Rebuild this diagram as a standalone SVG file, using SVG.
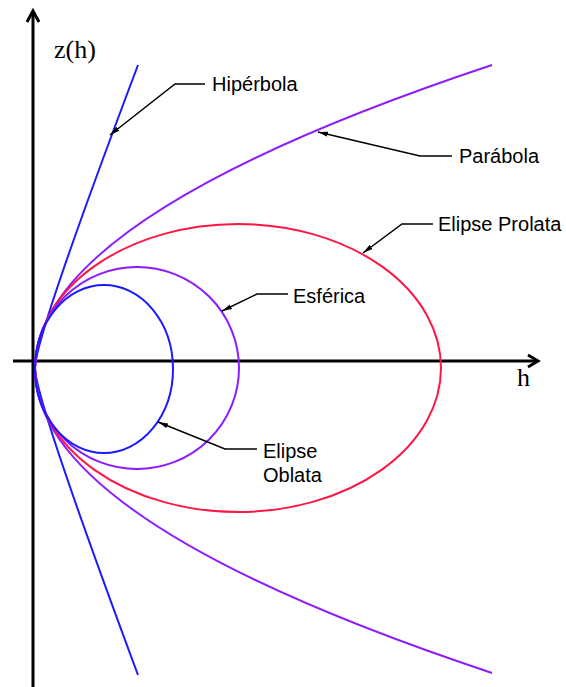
<svg xmlns="http://www.w3.org/2000/svg" width="566" height="687" viewBox="0 0 566 687">
<style>
.axis{stroke:#000;stroke-width:3;fill:none}
.blue{stroke:#1a1aff;stroke-width:2;fill:none}
.purple{stroke:#8a1cff;stroke-width:2;fill:none}
.red{stroke:#ff1744;stroke-width:2;fill:none}
.lead{stroke:#000;stroke-width:1.5;fill:none;marker-end:url(#ah)}
.lbl{font-family:"Liberation Sans",Arial,sans-serif;font-size:20px;fill:#000}
.ser{font-family:"Liberation Serif","Times New Roman",serif;font-size:26px;fill:#000}
</style>
<defs>
<marker id="ah" markerUnits="userSpaceOnUse" markerWidth="12" markerHeight="8" refX="10" refY="4" orient="auto" viewBox="0 0 12 8">
<path d="M0,1.5 L10,4 L0,6.5 Z" fill="#000"/>
</marker>
</defs>
<rect width="566" height="687" fill="#fff"/>
<g id="axes">
<line class="axis" x1="33" y1="687" x2="33" y2="11"/>
<polyline class="axis" points="27,22 33,11 39,22"/>
<line class="axis" x1="13" y1="361" x2="537" y2="361"/>
<polyline class="axis" points="528,355 538,361 528,367"/>
</g>
<g id="curves">
<path id="hiperbola" class="blue" d="M138,65 Q35,338 35,368 Q35,398 138,675"/>
<path id="parabola" class="purple" d="M492,65 Q-422,369 492,673"/>
<ellipse id="prolata" class="red" cx="238" cy="368" rx="203" ry="144"/>
<ellipse id="esferica" class="purple" cx="137" cy="368" rx="102" ry="101"/>
<ellipse id="oblata" class="blue" cx="104" cy="369" rx="69" ry="84"/>
</g>
<g id="connectors">
<path class="lead" d="M205,84 H175 L110,135"/>
<path class="lead" d="M452,156 H420 L318,132"/>
<path class="lead" d="M433,224 H402 L363,253"/>
<path class="lead" d="M288,294 H257 L222,311"/>
<path class="lead" d="M257,449 H225 L158,422"/>
</g>
<g id="labels">
<text class="ser" x="54" y="58">z(h)</text>
<text class="ser" x="517" y="386">h</text>
<text class="lbl" x="212" y="91">Hipérbola</text>
<text class="lbl" x="459" y="163">Parábola</text>
<text class="lbl" x="438" y="231">Elipse Prolata</text>
<text class="lbl" x="293" y="303">Esférica</text>
<text class="lbl" x="263" y="458">Elipse</text>
<text class="lbl" x="263" y="482">Oblata</text>
</g>
</svg>
